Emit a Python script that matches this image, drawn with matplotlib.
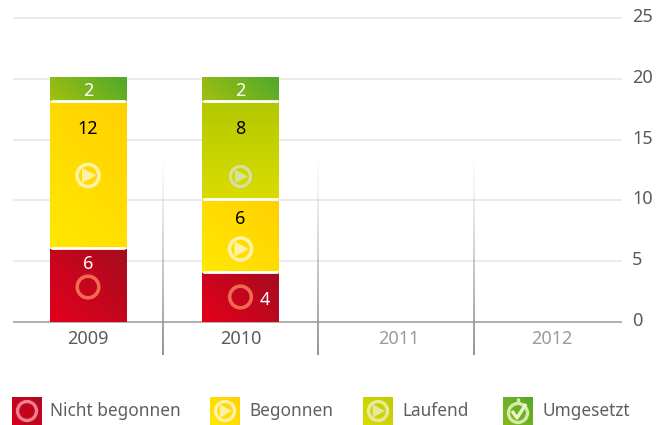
import numpy as np
import matplotlib
matplotlib.use('Agg')
import matplotlib.pyplot as plt
from matplotlib.patches import Circle, Polygon
from matplotlib.colors import LinearSegmentedColormap

plt.rcParams['font.family'] = ['Noto Sans', 'DejaVu Sans']

years = ['2009', '2010', '2011', '2012']
year_pos = [0, 1, 2.035, 3.04]
y_ticks = [0, 5, 10, 15, 20, 25]

# stacked from the bottom
nicht_begonnen = [6, 4]
begonnen = [12, 6]
laufend = [0, 8]
umgesetzt = [2, 2]

legend_names = ['Nicht begonnen', 'Begonnen', 'Laufend', 'Umgesetzt']

W, H = 668, 425
fig = plt.figure(figsize=(W / 100, H / 100), dpi=100)


def box(left, right, bottom, top):
    # pixel box, measured from the top left corner
    return [left / W, 1 - bottom / H, (right - left) / W, (bottom - top) / H]


# main axes only carries grid and ticks
y0 = 321.5
ax = fig.add_axes(box(8, 630, y0, y0 - 25 * 12.13))
ax.set_xlim((8 - 88) / 152.5, (630 - 88) / 152.5)
ax.set_ylim(0, 25)
for s in ax.spines.values():
    s.set_visible(False)
ax.set_yticks(y_ticks)
ax.set_yticklabels([])
ax.tick_params(axis='both', length=0)
ax.set_xticks(year_pos)
ax.set_xticklabels(years, fontsize=13, color='#5a5a5a')
ax.tick_params(axis='x', pad=6)
for lab in ax.get_xticklabels()[2:]:
    lab.set_color('#9a9a9a')
for t in y_ticks:
    ax.plot([(13 - 88) / 152.5, (622 - 88) / 152.5], [t, t], clip_on=False,
            color='#9b9b9b' if t == 0 else '#e5e5e5', lw=1.1, solid_capstyle='butt', zorder=2)
    ax.text((632 - 88) / 152.5, t + 0.08, str(t), fontsize=13, color='#5a5a5a', va='center', ha='left')

# the bars sit on a very slightly taller scale than the grid
bar_ax = fig.add_axes(box(8, 630, 322, 322 - 25 * 12.25))
bar_ax.set_xlim(ax.get_xlim())
bar_ax.set_ylim(0, 25)
bar_ax.axis('off')
bar_ax.patch.set_alpha(0)


def gradient_bar(x, bottom, height, c_from, c_to, vertical=False):
    cmap = LinearSegmentedColormap.from_list('g', [c_from, c_to])
    gx, gy = np.meshgrid(np.linspace(0, 1, 60), np.linspace(0, 1, 60))
    # 45 degrees on screen, so the height of the segment counts
    h = height * 12.25
    grad = gy if vertical else (gx * 76 + gy * h) / (76 + h)
    bar = bar_ax.bar(x, height, bottom=bottom, width=0.5, color='none', linewidth=0)[0]
    im = bar_ax.imshow(grad, cmap=cmap, vmin=0, vmax=1, origin='lower', aspect='auto', zorder=2,
                       extent=[x - 0.25, x + 0.25, bottom, bottom + height])
    im.set_clip_path(bar)


for i in range(2):
    bottom = 0
    gradient_bar(i, bottom, nicht_begonnen[i], '#e4001b', '#a50c1f')
    bottom += nicht_begonnen[i]
    gradient_bar(i, bottom, begonnen[i], '#ffe800', '#ffd000')
    bottom += begonnen[i]
    if laufend[i]:
        gradient_bar(i, bottom, laufend[i], '#dadc00', '#b2c800', vertical=True)
        bottom += laufend[i]
    gradient_bar(i, bottom, umgesetzt[i], '#a2c010', '#4fa82c')
    # white rules between the segments
    b = 0
    for v in [nicht_begonnen[i], begonnen[i], laufend[i]]:
        if v:
            b += v
            bar_ax.plot([i - 0.243, i + 0.243], [b + 0.06, b + 0.06], color='white', lw=2,
                        solid_capstyle='butt', zorder=3)
bar_ax.set_xlim(ax.get_xlim())
bar_ax.set_ylim(0, 25)

# overlay in pixels for separators, icons, value labels and legend
ov = fig.add_axes([0, 0, 1, 1])
ov.set_xlim(0, W)
ov.set_ylim(H, 0)
ov.axis('off')
ov.patch.set_alpha(0)

fade = np.zeros((100, 1, 4))
fade[..., :3] = 0.58
fade[:, 0, 3] = np.linspace(0, 1, 100) ** 1.2
for sx in [163, 318, 474]:
    ov.imshow(fade, extent=[sx - 0.7, sx + 0.7, 355, 155], aspect='auto', zorder=1)


def ring(cx, cy, r, lw, color, alpha=1.0):
    ov.add_patch(Circle((cx, cy), r, fill=False, ec=color, lw=lw, alpha=alpha, zorder=5))


def play(cx, cy, r, lw, color, alpha=1.0):
    ring(cx, cy, r, lw, color, alpha)
    s = r * 0.68
    ov.add_patch(Polygon([(cx - s * 0.8, cy - s), (cx - s * 0.8, cy + s), (cx + s * 1.1, cy)],
                         fc=color, ec='none', alpha=alpha, zorder=5))


ring(88, 287, 10.8, 2.6, '#ef6a50')
ring(240.5, 297, 10.8, 2.6, '#ef6a50')
play(88, 175.5, 11, 2.6, '#fff2a8')
play(240.5, 249, 11, 2.6, '#fff2a8')
play(240.5, 176.5, 10, 2.4, '#d5e09a')

# value labels, not centred in the segments in the original
ov.text(88, 91, str(umgesetzt[0]), color='white', fontsize=13, ha='center', va='center', zorder=6)
ov.text(88, 129, str(begonnen[0]), color='black', fontsize=13, ha='center', va='center', zorder=6)
ov.text(88, 264, str(nicht_begonnen[0]), color='white', fontsize=13, ha='center', va='center', zorder=6)
ov.text(240.5, 91, str(umgesetzt[1]), color='white', fontsize=13, ha='center', va='center', zorder=6)
ov.text(240.5, 129, str(laufend[1]), color='black', fontsize=13, ha='center', va='center', zorder=6)
ov.text(240.5, 219, str(begonnen[1]), color='black', fontsize=13, ha='center', va='center', zorder=6)
ov.text(265, 300, str(nicht_begonnen[1]), color='white', fontsize=13, ha='center', va='center', zorder=6)

# legend
swatch_x = [12, 210, 363, 503]
text_x = [50, 249, 402, 542]
swatch_cols = [('#d6001c', '#b00a20'), ('#ffe800', '#ffd000'), ('#dadc00', '#c0cc00'), ('#84ba1a', '#55a82a')]
gx, gy = np.meshgrid(np.linspace(0, 1, 30), np.linspace(1, 0, 30))
for sx, tx, name, cols in zip(swatch_x, text_x, legend_names, swatch_cols):
    cm = LinearSegmentedColormap.from_list('s', cols)
    ov.imshow((gx + gy) / 2, cmap=cm, vmin=0, vmax=1, extent=[sx, sx + 30, 425, 397], aspect='auto', zorder=3)
    ov.text(tx, 411.5, name, fontsize=12.4, color='#5f5f5f', ha='left', va='center')
ring(27, 411, 9.5, 2.4, '#ee8090')
play(225, 411, 9.5, 2.4, '#fff2a8')
play(378, 411, 9.5, 2.4, '#e6eaa0')
ring(518, 413, 9.5, 2.4, '#d8e8a8')
ov.plot([518, 518], [398, 403], color='#d8e8a8', lw=2.4, zorder=5, solid_capstyle='butt')
ov.plot([512, 517, 526], [411, 418, 404], color='#eef4d0', lw=2.4, zorder=6, solid_capstyle='butt')
ov.set_xlim(0, W)
ov.set_ylim(H, 0)

fig.savefig('out.png', dpi=100)
